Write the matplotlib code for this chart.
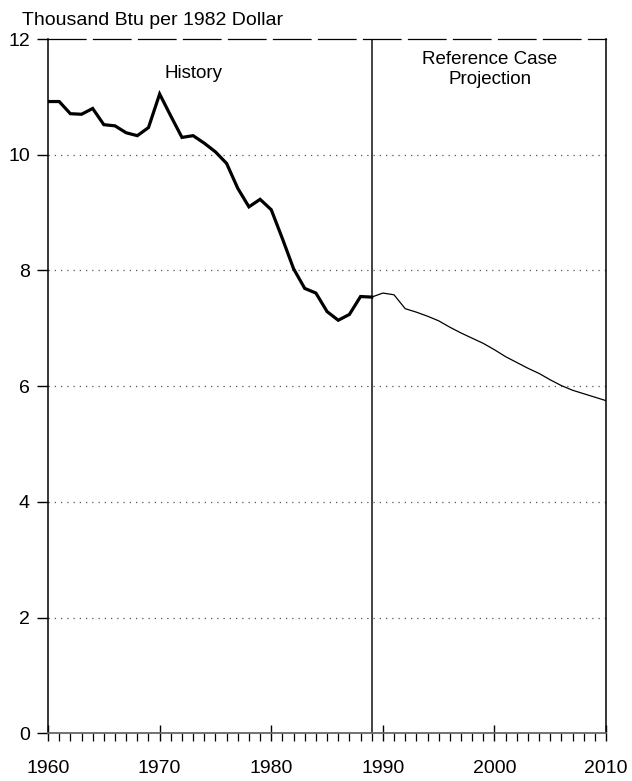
import matplotlib.pyplot as plt
from matplotlib.ticker import MultipleLocator

plt.rcParams['font.family'] = ['Liberation Sans', 'DejaVu Sans']

# history, 1960-1989
hist_years = list(range(1960, 1990))
hist_vals = [10.92, 10.92, 10.71, 10.70, 10.80, 10.52, 10.50, 10.38, 10.33, 10.47,
             11.05, 10.67, 10.30, 10.33, 10.20, 10.05, 9.85, 9.42, 9.10, 9.23,
             9.05, 8.55, 8.03, 7.69, 7.61, 7.29, 7.14, 7.24, 7.55, 7.54]

# reference case projection, 1989-2010
proj_years = list(range(1989, 2011))
proj_vals = [7.54, 7.61, 7.58, 7.34, 7.28, 7.21, 7.13, 7.02, 6.92, 6.83, 6.74,
             6.63, 6.51, 6.41, 6.31, 6.22, 6.11, 6.01, 5.93, 5.87, 5.81, 5.75]

y_ticks = [0, 2, 4, 6, 8, 10, 12]
x_ticks = [1960, 1970, 1980, 1990, 2000, 2010]
divider = 1989

fig = plt.figure(figsize=(6.32, 7.81), dpi=100)
ax = fig.add_axes([0.076, 0.061, 0.883, 0.889])

for v in y_ticks[1:-1]:
    ax.axhline(v, color='#555555', lw=0.9, ls=(0, (1, 4)), zorder=1)

ax.plot(hist_years, hist_vals, color='black', lw=2.3, solid_joinstyle='miter', zorder=3)
ax.plot(proj_years, proj_vals, color='black', lw=0.9, zorder=3)
ax.axvline(divider, color='#222222', lw=1.2, zorder=2)

ax.set_xlim(1960, 2010)
ax.set_ylim(0, 12)
ax.set_xticks(x_ticks)
ax.set_yticks(y_ticks)
ax.xaxis.set_minor_locator(MultipleLocator(1))

ax.tick_params(axis='x', which='major', direction='inout', length=12, width=1,
               labelsize=14, pad=13)
ax.tick_params(axis='x', which='minor', direction='out', length=6, width=0.9)
ax.tick_params(axis='y', which='major', direction='out', length=8, width=1,
               labelsize=14, pad=5)

for s in ['left', 'right']:
    ax.spines[s].set_linewidth(1.1)
ax.spines['bottom'].set_color('#666666')
ax.spines['bottom'].set_linewidth(1.3)
ax.spines['top'].set_linewidth(0.9)
ax.spines['top'].set_linestyle((0, (30, 6)))

fig.text(0.035, 0.974, 'Thousand Btu per 1982 Dollar', fontsize=14, va='center')
ax.text(1973, 11.4, 'History', fontsize=13.5, ha='center', va='center')
ax.text(1999.6, 11.48, 'Reference Case\nProjection', fontsize=13.5, ha='center',
        va='center', linespacing=1.25)

fig.savefig('out.png', dpi=100)
